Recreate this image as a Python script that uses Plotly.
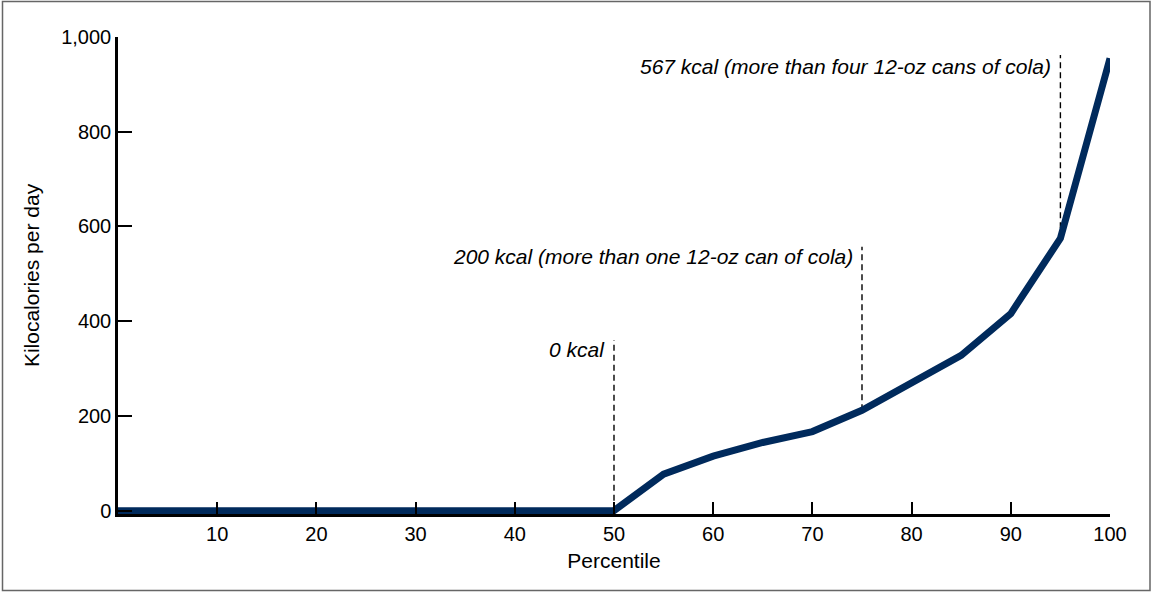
import plotly.graph_objects as go

percentile = [0, 5, 10, 15, 20, 25, 30, 35, 40, 45, 50, 55, 60, 65, 70, 75, 80, 85, 90, 95, 100]
kcal = [0, 0, 0, 0, 0, 0, 0, 0, 0, 0, 0, 77, 115, 144, 167, 212, 268, 328, 416, 575, 955]

marker_x = [50, 75, 95]
marker_bottom = [0, 212, 575]
marker_top = [360, 557, 962]
marker_label_y = [340, 537, 937]
marker_labels = ["0 kcal", "200 kcal (more than one 12-oz can of cola)",
                 "567 kcal (more than four 12-oz cans of cola)"]

x_ticks = [10, 20, 30, 40, 50, 60, 70, 80, 90, 100]
y_ticks = [0, 200, 400, 600, 800, 1000]
y_tick_text = ["0", "200", "400", "600", "800", "1,000"]

W, H = 1152, 592
L, R, T, B = 118, 42, 37, 78
FONT = "Liberation Sans, Arial, sans-serif"

fig = go.Figure()
for mx, mb, mt in zip(marker_x, marker_bottom, marker_top):
    fig.add_trace(go.Scatter(x=[mx, mx], y=[mb, mt], mode="lines",
                             line=dict(color="black", width=1.4, dash="6px,4px"),
                             hoverinfo="skip", showlegend=False))
fig.add_trace(go.Scatter(x=percentile, y=kcal, mode="lines",
                         line=dict(color="#002A5C", width=7),
                         showlegend=False))

for mx, ly, txt in zip(marker_x, marker_label_y, marker_labels):
    fig.add_annotation(x=mx, y=ly, text=txt, showarrow=False, xanchor="right",
                       yanchor="middle", xshift=-7,
                       font=dict(family=FONT, size=21, color="black", style="italic"))

pw, ph = W - L - R, H - T - B
fig.add_shape(type="rect", xref="paper", yref="paper",
              x0=(2.5 - L) / pw, x1=(W - 2 - L) / pw,
              y0=-(H - 1.5 - T - ph) / ph, y1=1 + (T - 1.5) / ph,
              line=dict(color="#666666", width=1.5), layer="below")

fig.update_layout(
    width=W, height=H, margin=dict(l=L, r=R, t=T, b=B, autoexpand=False),
    paper_bgcolor="white", plot_bgcolor="white",
    font=dict(family=FONT, size=20, color="black"),
    xaxis=dict(range=[0, 100], tickvals=x_ticks, ticks="inside", ticklen=12,
               tickwidth=2, tickcolor="black", showline=True, linecolor="black",
               linewidth=2.5, showgrid=False, zeroline=False, automargin=False,
               title=dict(text="Percentile", standoff=10, font=dict(size=21)),
               tickfont=dict(size=20)),
    yaxis=dict(range=[-7, 1000], tickvals=y_ticks, ticktext=y_tick_text,
               ticks="inside", ticklen=14, tickwidth=2, tickcolor="black",
               showline=True, linecolor="black", linewidth=2.5, showgrid=False,
               zeroline=False, automargin=False,
               title=dict(text="Kilocalories per day", standoff=16, font=dict(size=21)),
               tickfont=dict(size=20)),
)

fig.write_html("out.html", config={"displayModeBar": False},
               post_script="document.body.style.margin='0';document.body.style.overflow='hidden';")
